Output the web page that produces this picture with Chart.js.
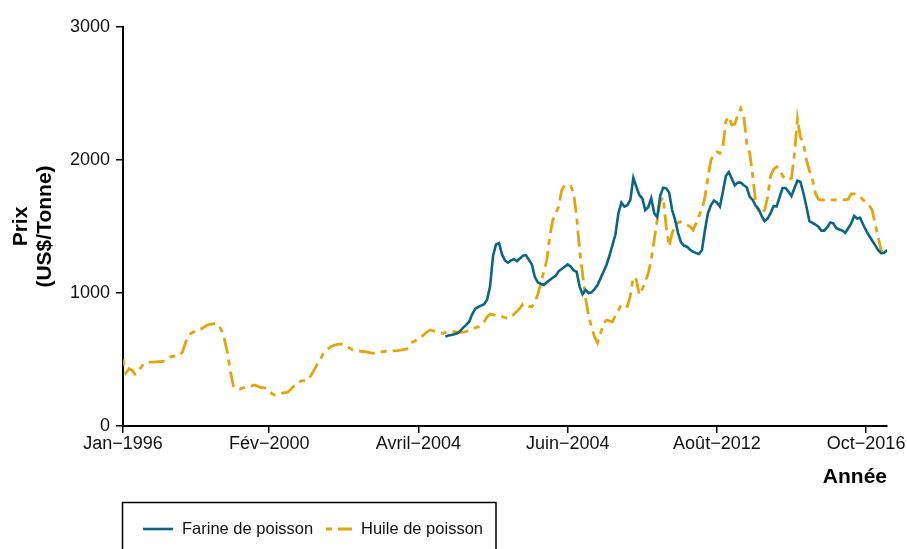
<!DOCTYPE html>
<html>
<head>
<meta charset="utf-8">
<script src="https://cdn.jsdelivr.net/npm/chart.js@4"></script>
<style>
  html, body { margin: 0; padding: 0; background: #fff; }
  #wrap { width: 907px; height: 549px; }
</style>
</head>
<body>
<div id="wrap"><canvas id="prixChart" width="907" height="549"></canvas></div>
<script>
// monthly prices, Jan 1996 = index 0
const tickIdx = [0, 49, 99, 149, 199, 249];
const tickLabels = ['Jan\u22121996', 'F\u00e9v\u22122000', 'Avril\u22122004', 'Juin\u22122004', 'Ao\u00fbt\u22122012', 'Oct\u22122016'];

const seriesNames = ['Farine de poisson', 'Huile de poisson'];

const huile = [
    500, 400, 430, 420, 390, 405, 440, 470, 478, 480,
    480, 482, 484, 485, 490, 505, 520, 525, 528, 530,
    560, 630, 680, 700, 712, 722, 728, 740, 755, 765,
    768, 770, 760, 720, 650, 550, 410, 300, 280, 276,
    285, 290, 290, 300, 308, 300, 290, 288, 283, 262,
    240, 233, 238, 245, 250, 252, 270, 295, 310, 332,
    340, 342, 346, 380, 420, 460, 496, 540, 565, 585,
    600, 609, 614, 617, 612, 598, 585, 572, 568, 565,
    560, 559, 555, 550, 547, 550, 555, 559, 562, 562,
    564, 565, 566, 570, 575, 578, 600, 630, 640, 660,
    672, 690, 710, 722, 715, 709, 700, 697, 703, 709,
    710, 709, 705, 702, 705, 712, 720, 730, 738, 745,
    760, 784, 820, 842, 838, 830, 825, 822, 815, 810,
    820, 840, 862, 885, 918, 915, 900, 897, 930, 990,
    1073, 1160, 1248, 1424, 1549, 1600, 1650, 1775, 1810, 1812,
    1805, 1750, 1574, 1324, 1140, 960, 830, 745, 670, 625,
    697, 770, 797, 790, 784, 830, 870, 915, 915, 900,
    980, 1120, 1100, 985, 1030, 1085, 1148, 1250, 1400, 1550,
    1687, 1720, 1500, 1350, 1450, 1499, 1530, 1535, 1526, 1512,
    1499, 1474, 1520, 1580, 1630, 1720, 1870, 2000, 2040, 2060,
    2050, 2100, 2290, 2326, 2265, 2270, 2340, 2389, 2330, 2126,
    2050, 1880, 1680, 1610, 1600, 1624, 1724, 1880, 1930, 1950,
    1935, 1880, 1860, 1850, 1865, 2050, 2310, 2170, 2126, 2000,
    1920, 1855, 1750, 1705, 1700, 1700, 1700, 1700, 1700, 1700,
    1700, 1700, 1700, 1705, 1745, 1745, 1730, 1724, 1700, 1680,
    1660, 1624, 1524, 1424, 1324, 1290, 1285
];

// fish meal starts at index 108 (Jan 2005)
const farineStart = 108;
const farine = [
    672, 680, 684, 690, 697, 715, 740, 760, 784, 840,
    880, 895, 905, 915, 950, 1050, 1280, 1365, 1375, 1290,
    1245, 1228, 1245, 1254, 1240, 1260, 1280, 1285, 1250, 1215,
    1120, 1080, 1070, 1060, 1080, 1098, 1115, 1130, 1165, 1180,
    1198, 1215, 1200, 1170, 1160, 1048, 990, 1023, 1000, 1005,
    1030, 1060, 1110, 1160, 1211, 1280, 1360, 1440, 1600, 1680,
    1650, 1660, 1700, 1865, 1800, 1737, 1712, 1624, 1645, 1712,
    1600, 1570, 1730, 1792, 1787, 1755, 1624, 1550, 1450, 1380,
    1355, 1348, 1325, 1311, 1300, 1294, 1324, 1474, 1600, 1660,
    1695, 1680, 1650, 1760, 1880, 1910, 1860, 1810, 1830, 1830,
    1810, 1795, 1724, 1700, 1655, 1630, 1580, 1540, 1560, 1600,
    1654, 1650, 1720, 1790, 1790, 1762, 1730, 1790, 1845, 1835,
    1750, 1650, 1540, 1528, 1515, 1499, 1469, 1469, 1495, 1530,
    1524, 1487, 1478, 1470, 1452, 1487, 1524, 1579, 1560, 1565,
    1515, 1470, 1430, 1395, 1360, 1324, 1299, 1300, 1325
];

const colFarine = '#0b6683';
const colHuile = '#e2a60c';

// legend drawn as a boxed row under the axis
const boxLegend = {
    id: 'boxLegend',
    afterDraw(chart) {
        const ctx = chart.ctx;
        ctx.save();
        ctx.strokeStyle = '#000';
        ctx.lineWidth = 1.5;
        ctx.strokeRect(122.5, 502.5, 373.5, 70);
        const items = [{ x: 143, w: 30 }, { x: 326, w: 26 }];
        ctx.font = '16.5px "Liberation Sans", Arial, sans-serif';
        ctx.textBaseline = 'middle';
        chart.data.datasets.forEach((ds, i) => {
            ctx.beginPath();
            ctx.strokeStyle = ds.borderColor;
            ctx.lineWidth = ds.borderWidth;
            ctx.setLineDash(ds.borderDash || []);
            ctx.moveTo(items[i].x, 529);
            ctx.lineTo(items[i].x + items[i].w, 529);
            ctx.stroke();
            ctx.setLineDash([]);
            ctx.fillStyle = '#111';
            ctx.fillText(ds.label, items[i].x + items[i].w + 9, 529);
        });
        ctx.restore();
    }
};

const ctx = document.getElementById('prixChart').getContext('2d');
new Chart(ctx, {
    type: 'line',
    data: {
        datasets: [
            {
                label: seriesNames[0],
                data: farine.map((v, i) => ({ x: farineStart + i, y: v })),
                borderColor: colFarine,
                borderWidth: 2.6,
                pointRadius: 0,
                tension: 0,
                fill: false
            },
            {
                label: seriesNames[1],
                data: huile.map((v, i) => ({ x: i, y: v })),
                borderColor: colHuile,
                borderWidth: 2.8,
                borderDash: [6, 6, 16, 6],
                pointRadius: 0,
                tension: 0,
                fill: false
            }
        ]
    },
    options: {
        responsive: false,
        animation: false,
        layout: { padding: { left: 0, right: 20, top: 27, bottom: 59 } },
        plugins: {
            legend: { display: false },
            tooltip: { enabled: false }
        },
        scales: {
            x: {
                type: 'linear',
                min: 0,
                max: 256,
                afterBuildTicks: scale => { scale.ticks = tickIdx.map(v => ({ value: v })); },
                afterFit: scale => { scale.height = 64; },
                ticks: {
                    autoSkip: false,
                    maxRotation: 0,
                    padding: 0,
                    color: '#111',
                    font: { family: '"Liberation Sans", Arial, sans-serif', size: 18 },
                    callback: value => tickLabels[tickIdx.indexOf(value)]
                },
                grid: { drawOnChartArea: false, tickLength: 7, color: '#000', lineWidth: 1.5 },
                border: { display: true, color: '#000', width: 2 },
                title: {
                    display: true,
                    text: 'Ann\u00e9e',
                    align: 'end',
                    color: '#000',
                    padding: 0,
                    font: { family: '"Liberation Sans", Arial, sans-serif', size: 21, weight: 'bold' }
                }
            },
            y: {
                min: 0,
                max: 3000,
                afterFit: scale => { scale.width = 123; },
                ticks: {
                    stepSize: 1000,
                    padding: 6,
                    color: '#111',
                    font: { family: '"Liberation Sans", Arial, sans-serif', size: 18 },
                    callback: value => String(value)
                },
                grid: { drawOnChartArea: false, tickLength: 7, color: '#000', lineWidth: 1.5 },
                border: { display: true, color: '#000', width: 2 },
                title: {
                    display: true,
                    text: ['Prix', '(US$/Tonne)'],
                    color: '#000',
                    padding: { top: 9, bottom: 0 },
                    font: { family: '"Liberation Sans", Arial, sans-serif', size: 21, weight: 'bold', lineHeight: 1.15 }
                }
            }
        }
    },
    plugins: [boxLegend]
});
</script>
</body>
</html>
